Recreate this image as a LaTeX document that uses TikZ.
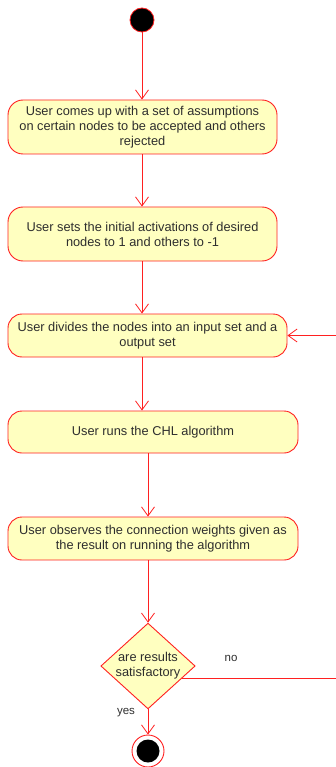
\documentclass[tikz,border=0pt]{standalone}
\usepackage{fontspec}
\setmainfont{Liberation Sans}
\usetikzlibrary{shapes.geometric,arrows.meta}
\definecolor{actfill}{HTML}{FFFFC0}
\definecolor{actline}{HTML}{FF2020}
\definecolor{acttext}{HTML}{2E2E2E}
\begin{document}
\begin{tikzpicture}[x=1pt,y=-1pt,
  every node/.style={font=\fontsize{12.8}{15}\selectfont, text=acttext},
  action/.style={draw=actline, fill=actfill, line width=0.9pt, rounded corners=15pt,
    align=center, inner sep=2pt},
  decision/.style={draw=actline, fill=actfill, line width=0.9pt, diamond, aspect=1.1,
    align=center, inner sep=0pt, minimum width=92pt, minimum height=84pt},
  flow/.style={draw=actline, line width=0.9pt,
    -{Straight Barb[length=9pt,width=13pt,line width=0.8pt]}},
  guard/.style={font=\fontsize{11.5}{13}\selectfont}]
\useasboundingbox (0,0) rectangle (335,767);

% initial and final states
\node (start) [circle, fill=black, draw=actline, line width=0.8pt, minimum size=24pt, inner sep=0pt] at (142,20) {};
\node (stop) [circle, draw=actline, fill=white, line width=0.9pt, minimum size=32pt, inner sep=0pt] at (148,751) {};
\node (stopdot) [circle, fill=black, minimum size=23pt, inner sep=0pt] at (stop) {};

% activities
\node (b1) [action, minimum width=269pt, minimum height=54pt] at (142.5,127)
  {User comes up with a set of assumptions\\on certain nodes to be accepted and others\\rejected};
\node (b2) [action, minimum width=269pt, minimum height=54pt] at (142.5,234)
  {User sets the initial activations of desired\\nodes to 1 and others to -1};
\node (b3) [action, minimum width=279pt, minimum height=43pt, rounded corners=14pt] at (147.5,335.5)
  {User divides the nodes into an input set and a\\output set};
\node (b4) [action, minimum width=290pt, minimum height=42pt, rounded corners=14pt] at (153,432)
  {User runs the CHL algorithm};
\node (b5) [action, minimum width=290pt, minimum height=43pt, rounded corners=14pt] at (153,538.5)
  {User observes the connection weights given as\\the result on running the algorithm};

% decision
\node (dec) [decision] at (148,666) {are results\\satisfactory};

% guards
\node (no) [guard] at (231,658) {no};
\node (yes) [guard] at (126,713) {yes};

% return path runs just outside the right border
\coordinate (rim) at (337,0);

% control flow
\draw[flow] (start) -- (b1.north -| start);
\draw[flow] (b1.south -| start) -- (b2.north -| start);
\draw[flow] (b2.south -| start) -- (b3.north -| start);
\draw[flow] (b3.south -| start) -- (b4.north -| start);
\draw[flow] (b4.south -| dec) -- (b5.north -| dec);
\draw[flow] (b5.south -| dec) -- (dec.north);
\draw[flow] (dec.south) -- (stop.north);
\draw[flow] (dec.-20) -| (rim |- b3.east) -- (b3.east);
\end{tikzpicture}
\end{document}
